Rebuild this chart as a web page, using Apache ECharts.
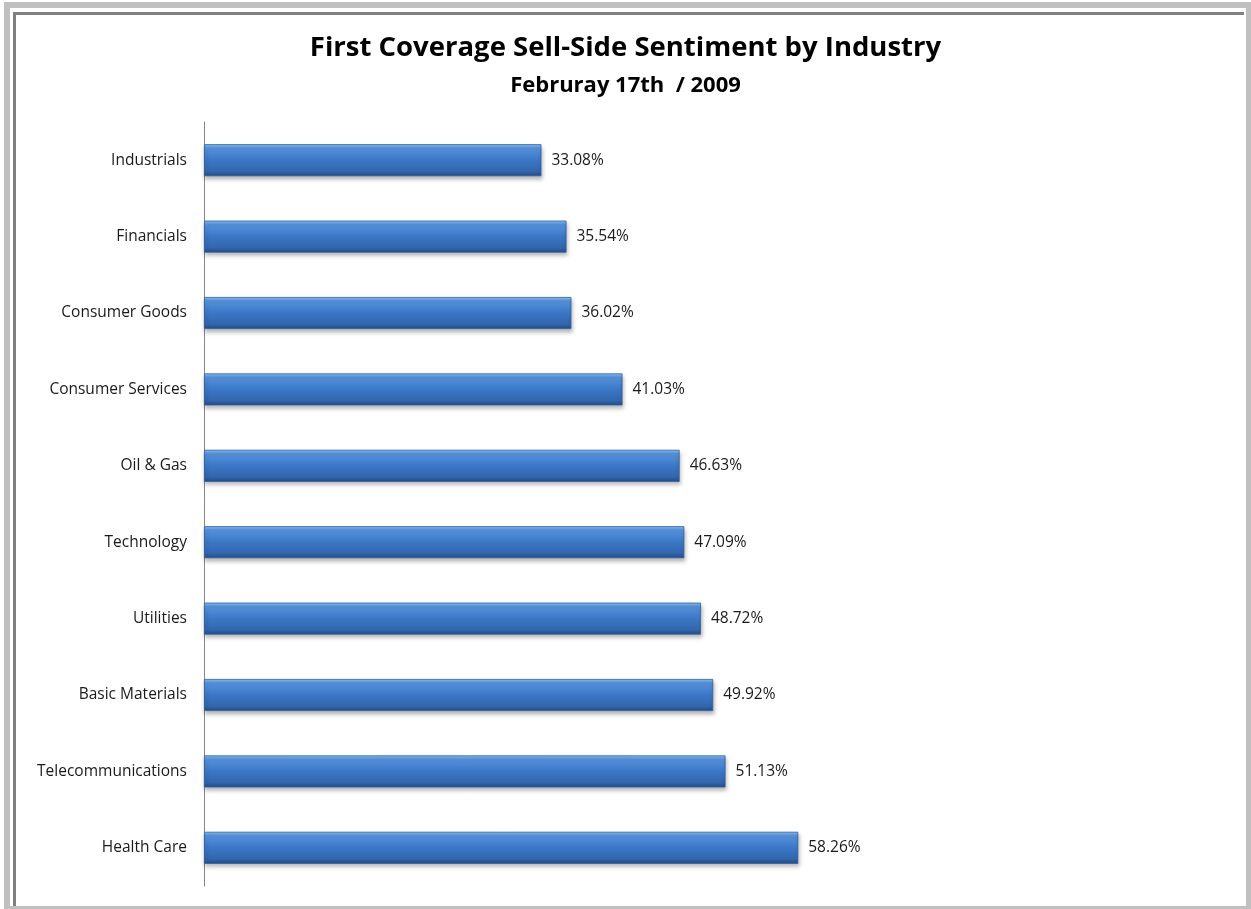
<!DOCTYPE html>
<html><head><meta charset="utf-8">
<script src="https://cdn.jsdelivr.net/npm/echarts@6/dist/echarts.min.js"></script>
<style>html,body{margin:0;padding:0;background:#fff;}#c{width:1251px;height:909px;}</style>
</head><body><div id="c"></div>
<script>
const titleText = 'First Coverage Sell-Side Sentiment by Industry';
const subtitleText = 'Februray 17th  / 2009';
const categories = ['Industrials','Financials','Consumer Goods','Consumer Services','Oil & Gas','Technology','Utilities','Basic Materials','Telecommunications','Health Care'];
const values = [33.08, 35.54, 36.02, 41.03, 46.63, 47.09, 48.72, 49.92, 51.13, 58.26];

const chart = echarts.init(document.getElementById('c'), null, {renderer:'canvas'});
const font = '"Open Sans", "Noto Sans", sans-serif';
chart.setOption({
  animation: false,
  backgroundColor: '#fff',
  graphic: [
    {type:'rect', shape:{x:7,y:5,width:1242,height:904}, style:{fill:'none', stroke:'#c0c0c0', lineWidth:6}, z:-1},
    {type:'polyline', shape:{points:[[14.5,906],[14.5,13.5],[1244,13.5]]}, style:{fill:'none', stroke:'#808080', lineWidth:3}, z:0}
  ],
  title: [
    {text: titleText, left:'center', top:29, textStyle:{fontFamily:font, fontWeight:'bold', fontSize:27.5, color:'#000'}},
    {text: subtitleText, left:'center', top:70, textStyle:{fontFamily:font, fontWeight:'bold', fontSize:22, color:'#000'}}
  ],
  grid: {left:204, right:27, top:122, bottom:23, containLabel:false},
  xAxis: {type:'value', min:0, max:100, show:false},
  yAxis: {
    type:'category', data: categories, inverse:true,
    axisLine:{show:true, lineStyle:{color:'#868686', width:1}},
    axisTick:{show:false},
    axisLabel:{fontFamily:font, fontSize:15.5, color:'#1a1a1a', margin:17}
  },
  series: [{
    type:'bar', data: values, barWidth:32,
    itemStyle:{
      color: new echarts.graphic.LinearGradient(0,0,0,1,[
        {offset:0, color:'#8fc0f4'},
        {offset:0.12, color:'#5693dc'},
        {offset:0.5, color:'#3b77c6'},
        {offset:0.85, color:'#3266ad'},
        {offset:1, color:'#234b82'}
      ]),
      borderColor:'#2f5f9e', borderWidth:0.8,
      shadowColor:'rgba(0,0,0,0.28)', shadowBlur:4, shadowOffsetY:3, shadowOffsetX:1
    },
    label:{show:true, position:'right', distance:10, fontFamily:font, fontSize:15.5, color:'#1a1a1a',
      formatter: p => p.value.toFixed(2) + '%'}
  }]
});
</script></body></html>
